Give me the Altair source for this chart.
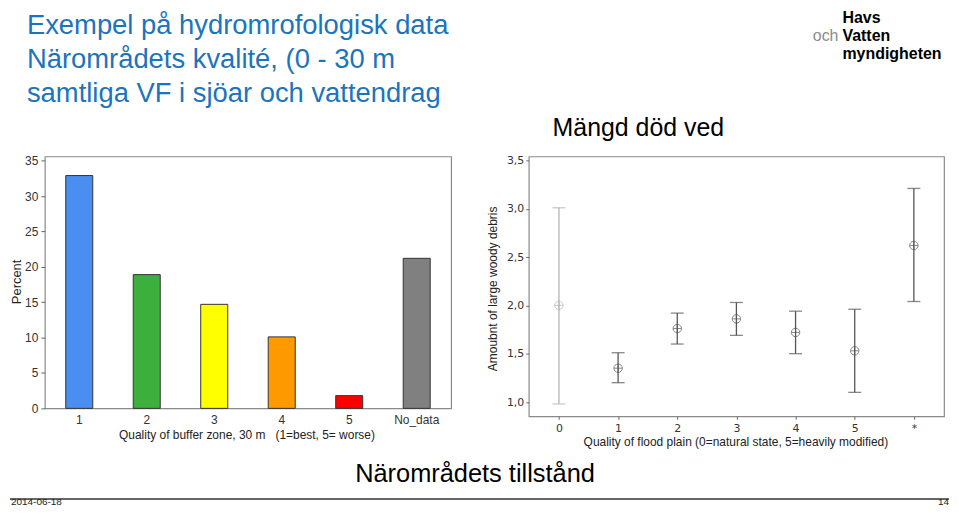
import altair as alt
import pandas as pd

F = "Liberation Sans"
FR = "DejaVu Sans"

# ---- data ----
buffer_cats = ["1", "2", "3", "4", "5", "No_data"]
buffer_pct = [32.9, 18.9, 14.7, 10.1, 1.8, 21.2]
buffer_colors = ["#4a8ff0", "#3caf3c", "#ffff00", "#ff9900", "#ff0000", "#808080"]

flood_cats = ["0", "1", "2", "3", "4", "5", "*"]
flood_mean = [2.00, 1.35, 1.76, 1.86, 1.72, 1.53, 2.62]
flood_low = [0.98, 1.20, 1.60, 1.69, 1.50, 1.10, 2.04]
flood_high = [3.01, 1.51, 1.92, 2.03, 1.94, 1.96, 3.21]
flood_colors = ["#b4b4b4", "#555555", "#555555", "#555555", "#555555", "#555555", "#555555"]

left_ticks = [0, 5, 10, 15, 20, 25, 30, 35]
right_ticks = [1.0, 1.5, 2.0, 2.5, 3.0, 3.5]

header_lines = ["Exempel på hydromrofologisk data",
                "Närområdets kvalité, (0 - 30 m",
                "samtliga VF i sjöar och vattendrag"]

left_df = pd.DataFrame({"cat": buffer_cats, "pct": buffer_pct, "color": buffer_colors})
right_df = pd.DataFrame({"cat": flood_cats, "mean": flood_mean, "low": flood_low,
                         "high": flood_high, "col": flood_colors})
one = pd.DataFrame({"a": [0]})


def txt(s, x, y, size, color="#000", angle=0, align="left", baseline="alphabetic",
        font=F, weight="normal"):
    return alt.Chart(one).mark_text(text=s, fontSize=size, color=color, angle=angle,
                                    align=align, baseline=baseline, font=font,
                                    fontWeight=weight).encode(
        x=alt.value(x), y=alt.value(y))


# ---- left panel ----
xL = alt.X("cat:N", sort=buffer_cats,
           scale=alt.Scale(paddingInner=0.6, paddingOuter=0.31),
           axis=alt.Axis(title=None, labelAngle=0, ticks=False, domain=False,
                         labelPadding=6, labelFontSize=12, labelFont=F,
                         labelColor="#333"))
yL = alt.Y("pct:Q", scale=alt.Scale(domain=[0, 35.6], nice=False, zero=True),
           axis=alt.Axis(title=None, values=left_ticks, grid=False, domain=False,
                         tickSize=4, tickColor="#666", labelPadding=3,
                         labelFontSize=12, labelFont=F, labelColor="#333"))

anchor = alt.Chart(one).mark_rect(opacity=0).encode(
    x=alt.value(-35), x2=alt.value(908), y=alt.value(-147), y2=alt.value(352))

bars = alt.Chart(left_df).mark_bar(stroke="#333", strokeWidth=1).encode(
    x=xL, y=yL, color=alt.Color("color:N", scale=None))

blue = "#1b74bc"
texts_left = [
    txt(header_lines[0], -18, -123, 27.5, blue),
    txt(header_lines[1], -18, -89, 27.5, blue),
    txt(header_lines[2], -18, -55, 27.5, blue),
    txt("Mängd död ved", 596, -20.7, 25, align="center"),
    txt("Percent", -28, 126, 13, color="#222", angle=270, align="center", baseline="middle"),
    txt("Quality of buffer zone, 30 m\u00a0\u00a0\u00a0(1=best, 5= worse)", 203, 284, 12,
        color="#222", align="center"),
    txt("Närområdets tillstånd", 432, 326.5, 25.5, align="center"),
    txt("2014-06-18", -34, 352, 10, color="#222", baseline="bottom"),
    txt("14", 908, 352, 10, color="#222", align="right", baseline="bottom"),
    # logo
    txt("Havs", 801, -134, 16, weight="bold"),
    txt("och", 797, -116, 16, color="#8c8c8c", align="right"),
    txt("Vatten", 801, -116, 16, weight="bold"),
    txt("myndigheten", 801, -98, 16, weight="bold"),
]
footer_line = alt.Chart(one).mark_rule(color="#333", strokeWidth=1.5).encode(
    x=alt.value(-35), x2=alt.value(908), y=alt.value(344))

left = alt.layer(anchor, bars, footer_line, *texts_left).properties(width=408, height=253)

# ---- right panel ----
xR = alt.X("cat:N", sort=flood_cats, scale=alt.Scale(type="point", padding=0.51),
           axis=alt.Axis(title=None, labelAngle=0, domain=False, tickSize=3,
                         tickColor="#666", labelPadding=3, labelFontSize=11,
                         labelFont=FR, labelColor="#333"))
yscale = alt.Scale(domain=[0.852, 3.541], nice=False, zero=False)
yR_axis = alt.Axis(title=None, values=right_ticks, grid=False, domain=False, tickSize=3,
                   tickColor="#666", labelPadding=2, labelFontSize=11, labelFont=FR,
                   labelColor="#333",
                   labelExpr="replace(format(datum.value, '.1f'), '.', ',')")
colR = alt.Color("col:N", scale=None)

stems = alt.Chart(right_df).mark_rule(strokeWidth=1.3).encode(
    x=xR, y=alt.Y("low:Q", scale=yscale, axis=yR_axis), y2="high:Q", color=colR)
cap_lo = alt.Chart(right_df).mark_tick(size=13, thickness=1.3).encode(
    x=xR, y=alt.Y("low:Q", scale=yscale), color=colR)
cap_hi = alt.Chart(right_df).mark_tick(size=13, thickness=1.3).encode(
    x=xR, y=alt.Y("high:Q", scale=yscale), color=colR)
PATH = "M-1,0A1,1,0,1,1,1,0A1,1,0,1,1,-1,0M-1,0L1,0M0,-1L0,1"
means = alt.Chart(right_df).mark_point(shape=PATH, size=72, filled=False,
                                        strokeWidth=1).encode(
    x=xR, y=alt.Y("mean:Q", scale=yscale), color=colR)

texts_right = [
    txt("Amoubnt of large woody debris", -36, 133, 12, color="#222", angle=270,
        align="center", baseline="middle"),
    txt("Quality of flood plain (0=natural state, 5=heavily modified)", 208, 291, 12,
        color="#222", align="center"),
]

right = alt.layer(stems, cap_lo, cap_hi, means, *texts_right).properties(width=417, height=261)

chart = alt.hconcat(left, right, spacing=78, bounds="flush").properties(
    padding=0
).configure_view(stroke="#8a8a8a", strokeWidth=1.2)

chart.save("out.html", embed_options={"renderer": "svg", "actions": False})
